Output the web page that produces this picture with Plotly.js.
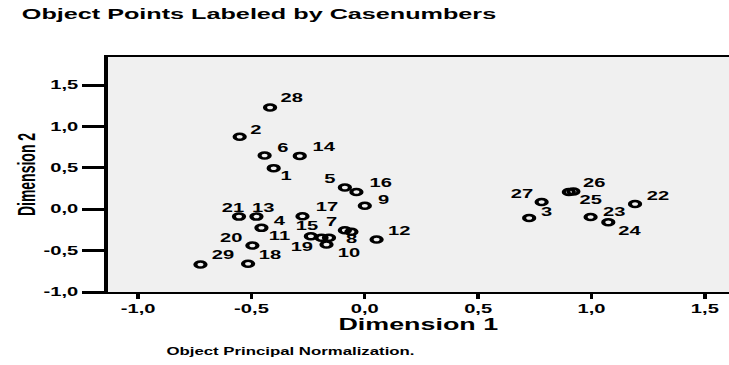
<!DOCTYPE html>
<html><head><meta charset="utf-8">
<script src="https://cdn.plot.ly/plotly-3.0.1.min.js"></script>
<style>
html,body{margin:0;padding:0;overflow:hidden;background:#fff;width:729px;height:365px}
#wrap{width:434px;height:365px;transform:scaleX(1.68);transform-origin:0 0}
#chart{width:434px;height:365px}
</style></head>
<body><div id="wrap"><div id="chart"></div></div>
<script>
// Case numbers and object scores
const caseNumbers = [1,2,3,4,5,6,7,8,9,10,11,12,13,14,15,16,17,18,19,20,21,22,23,24,25,26,27,28,29];
const dimension1 = [-0.402,-0.552,0.725,-0.456,-0.088,-0.442,-0.088,-0.059,0.000,-0.158,
                    -0.238,0.052,-0.478,-0.287,-0.191,-0.037,-0.275,-0.515,-0.169,-0.496,
                    -0.555,1.192,0.996,1.074,0.920,0.900,0.780,-0.418,-0.725];
const dimension2 = [0.497,0.877,-0.105,-0.225,0.264,0.649,-0.254,-0.273,0.043,-0.345,
                    -0.326,-0.366,-0.089,0.645,-0.345,0.208,-0.085,-0.658,-0.426,-0.438,
                    -0.089,0.064,-0.093,-0.158,0.215,0.208,0.088,1.231,-0.667];
const xTickVals = [-1.0,-0.5,0.0,0.5,1.0,1.5];
const xTickText = ['-1,0','-0,5','0,0','0,5','1,0','1,5'];
const yTickVals = [-1.0,-0.5,0.0,0.5,1.0,1.5];
const yTickText = ['-1,0','-0,5','0,0','0,5','1,0','1,5'];

// label offsets from each marker, in screen pixels (style only)
const labelDx = [13,17,18,18,-14,18.5,-13.3,0,19,20,-31,24,8,24,-13.4,25,25,23,-24,-21,-5,23,25,21,18.5,26,-20,23,23];
const labelDy = [7.7,-7,-5.6,-6.6,-8.7,-7.4,-8,7.5,-6,15.5,0,-8.3,-8.7,-8.7,-11.6,-9,-9.4,-8.3,2.3,-7.7,-8.7,-7.6,-4.6,8.3,8.4,-9,-8.3,-9,-9];

const K = 1.68; // horizontal stretch of the reference rendering
const FONT = 'Liberation Sans, Arial, Helvetica, sans-serif';

const trace = {
  type: 'scatter',
  mode: 'markers',
  x: dimension1,
  y: dimension2,
  marker: {symbol: 'circle-open', size: 6, color: '#000', line: {width: 2.5, color: '#000'}},
  cliponaxis: false,
  hoverinfo: 'skip',
  showlegend: false
};

const pointLabels = caseNumbers.map((n, i) => ({
  x: dimension1[i], y: dimension2[i], xref: 'x', yref: 'y',
  text: String(n), showarrow: false, xanchor: 'center', yanchor: 'middle',
  xshift: labelDx[i] / K, yshift: -labelDy[i],
  font: {family: FONT, size: 12, weight: 'bold', color: '#000'}
}));

const layout = {
  width: 434, height: 365,
  margin: {l: 64, r: 0, t: 57, b: 73},
  paper_bgcolor: '#ffffff',
  plot_bgcolor: '#f0f0f0',
  font: {family: FONT, color: '#000'},
  title: {
    text: 'Object Points Labeled by Casenumbers',
    font: {family: FONT, size: 15, weight: 'bold', color: '#000'},
    x: 13/434, xref: 'container', xanchor: 'left',
    y: 1 - 14/365, yref: 'container', yanchor: 'middle'
  },
  xaxis: {
    range: [-1.135, 1.607],
    tickvals: xTickVals, ticktext: xTickText,
    ticks: 'outside', ticklen: 5, tickwidth: 2, tickcolor: '#000',
    tickfont: {family: FONT, size: 12, weight: 'bold'},
    showline: true, linecolor: '#000', linewidth: 2, mirror: true,
    showgrid: false, zeroline: false,
    title: {text: 'Dimension 1', font: {family: FONT, size: 16, weight: 'bold'}, standoff: 0}
  },
  yaxis: {
    range: [-1.0, 1.84],
    tickvals: yTickVals, ticktext: yTickText,
    ticks: 'outside', ticklen: 13, tickwidth: 3, tickcolor: '#000',
    tickfont: {family: FONT, size: 12, weight: 'bold'},
    showline: true, linecolor: '#000', linewidth: 2,
    showgrid: false, zeroline: false,
    title: {text: 'Dimension 2', font: {family: 'Liberation Sans Narrow, Arial Narrow, ' + FONT, size: 14, weight: 'bold'}, standoff: 1}
  },
  annotations: pointLabels.concat([{
    text: 'Object Principal Normalization.',
    xref: 'paper', yref: 'paper', x: 0.089, y: -0.255,
    xanchor: 'left', yanchor: 'middle', showarrow: false,
    font: {family: FONT, size: 10, weight: 'bold', color: '#000'}
  }])
};

Plotly.newPlot('chart', [trace], layout, {staticPlot: true, displayModeBar: false});
</script>
</body></html>
